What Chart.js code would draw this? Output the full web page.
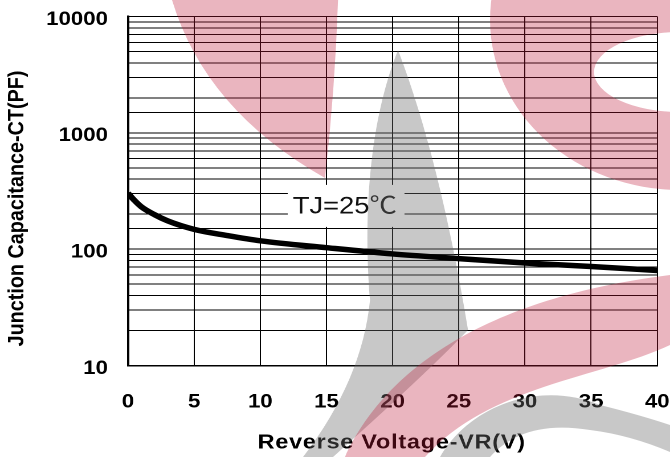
<!DOCTYPE html>
<html>
<head>
<meta charset="utf-8">
<script src="https://cdn.jsdelivr.net/npm/chart.js@4"></script>
<style>
  html, body { margin: 0; padding: 0; background: #fff; overflow: hidden; }
  #wrap { width: 588px; height: 457px; transform: scaleX(1.1395); transform-origin: 0 0; }
  canvas { display: block; }
</style>
</head>
<body>
<div id="wrap"><canvas id="c" width="588" height="457"></canvas></div>
<script>
// ---- data ----
const voltage     = [0, 0.5, 1, 2, 3, 5, 7.5, 10, 15, 20, 25, 30, 35, 40];
const capacitance = [303, 262, 232, 198, 175, 148, 131, 118, 103, 91, 83, 76, 71, 65.5];
const xTicks = [0, 5, 10, 15, 20, 25, 30, 35, 40];
const yTickLabels = [10, 100, 1000, 10000];
const xTitle = 'Reverse Voltage-VR(V)';
const yTitle = 'Junction Capacitance-CT(PF)';
const noteText = 'TJ=25\u2103';
const notePos = { x: 12.45, y: 203 };

const S = 670 / 588;          // horizontal stretch of the reference picture
const FONT = '"Liberation Sans", Arial, sans-serif';

const decor = {
  id: 'decor',
  beforeDatasetsDraw(chart) {
    const ctx = chart.ctx;
    const xs = chart.scales.x, ys = chart.scales.y;
    // axis titles
    ctx.save();
    ctx.fillStyle = '#000';
    ctx.font = 'bold 19.8px ' + FONT;
    ctx.textAlign = 'center';
    ctx.textBaseline = 'middle';
    ctx.translate(17 / S, 208.5);
    ctx.rotate(-Math.PI / 2);
    ctx.fillText(yTitle, 0, 0);
    ctx.restore();

    ctx.save();
    ctx.fillStyle = '#000';
    ctx.font = 'bold 20.5px ' + FONT;
    ctx.letterSpacing = '0.7px';
    ctx.textAlign = 'center';
    ctx.textBaseline = 'middle';
    ctx.fillText(xTitle, 391.7 / S, 443);
    ctx.restore();

    // note with white box
    const nx = xs.getPixelForValue(notePos.x);
    const ny = ys.getPixelForValue(notePos.y);
    ctx.save();
    ctx.fillStyle = '#fff';
    ctx.fillRect(nx - 4.4, ny - 28.5, 102.5, 42);
    ctx.fillStyle = '#111';
    ctx.font = '24px ' + FONT + ', "Noto Sans CJK SC"';
    ctx.textAlign = 'left';
    ctx.textBaseline = 'alphabetic';
    ctx.fillText(noteText, nx, ny);
    ctx.restore();

    // background watermark (overlay), drawn in page coordinates
    ctx.save();
    ctx.scale(1 / S, 1);
    // pink blade, top
    ctx.fillStyle = 'rgba(190,25,55,0.32)';
    ctx.beginPath();
    ctx.moveTo(172, 0);
    ctx.quadraticCurveTo(205, 110, 325, 178);
    ctx.quadraticCurveTo(335, 90, 338, 0);
    ctx.closePath();
    ctx.fill();
    // pink crescent, top right
    ctx.beginPath();
    ctx.ellipse(680, 20, 190, 170, 0, 0, Math.PI * 2);
    ctx.ellipse(680, 72, 86, 40, 0, 0, Math.PI * 2);
    ctx.fill('evenodd');
    // gray blade
    ctx.fillStyle = 'rgba(110,110,110,0.38)';
    ctx.beginPath();
    ctx.moveTo(398, 50);
    ctx.bezierCurveTo(362, 140, 366, 250, 370, 300);
    ctx.quadraticCurveTo(362, 380, 303, 457);
    ctx.lineTo(333, 457);
    ctx.quadraticCurveTo(430, 370, 468, 330);
    ctx.quadraticCurveTo(440, 160, 398, 50);
    ctx.closePath();
    ctx.fill();
    // gray arch, bottom right
    ctx.beginPath();
    ctx.moveTo(440, 457);
    ctx.bezierCurveTo(470, 405, 540, 380, 600, 405);
    ctx.quadraticCurveTo(640, 415, 670, 425);
    ctx.lineTo(670, 452);
    ctx.quadraticCurveTo(630, 435, 590, 430);
    ctx.bezierCurveTo(540, 422, 510, 435, 490, 457);
    ctx.closePath();
    ctx.fill();
    // pink band, bottom
    ctx.fillStyle = 'rgba(190,25,55,0.32)';
    ctx.beginPath();
    ctx.moveTo(345, 457);
    ctx.bezierCurveTo(380, 380, 470, 300, 670, 275);
    ctx.lineTo(670, 345);
    ctx.bezierCurveTo(600, 378, 490, 385, 425, 457);
    ctx.closePath();
    ctx.fill();
    ctx.restore();
  }
};

const tickFont = { family: FONT, size: 19.5, weight: 'bold' };

new Chart(document.getElementById('c'), {
  type: 'line',
  data: {
    datasets: [{
      data: voltage.map((v, i) => ({ x: v, y: capacitance[i] })),
      borderColor: '#000',
      borderWidth: 5.5,
      pointRadius: 0,
      cubicInterpolationMode: 'monotone',
      fill: false
    }]
  },
  options: {
    responsive: false,
    animation: false,
    devicePixelRatio: 2,
    layout: { padding: { left: 0, right: 11.2, top: 16.5, bottom: 0 } },
    plugins: { legend: { display: false }, tooltip: { enabled: false } },
    scales: {
      x: {
        type: 'linear', min: 0, max: 40,
        afterBuildTicks: s => { s.ticks = xTicks.map(v => ({ value: v })); },
        afterFit: s => { s.height = 91.5; s.paddingLeft = 0; s.paddingRight = 0; },
        grid: { color: '#000', lineWidth: 1, drawTicks: false },
        border: { color: '#000', width: 1.5 },
        ticks: { font: tickFont, color: '#000', padding: 25, maxRotation: 0 }
      },
      y: {
        type: 'logarithmic', min: 10, max: 10000,
        afterFit: s => { s.width = 112.3; s.paddingTop = 0; s.paddingBottom = 0; },
        grid: { color: '#000', lineWidth: 1, drawTicks: false },
        border: { color: '#000', width: 2 },
        ticks: {
          font: tickFont, color: '#000', padding: 17.6, autoSkip: false, labelOffset: 3,
          callback: v => yTickLabels.includes(Math.round(v)) && Math.abs(Math.log10(v) - Math.round(Math.log10(v))) < 1e-9 ? String(Math.round(v)) : ''
        }
      }
    }
  },
  plugins: [decor]
});
</script>
</body>
</html>
